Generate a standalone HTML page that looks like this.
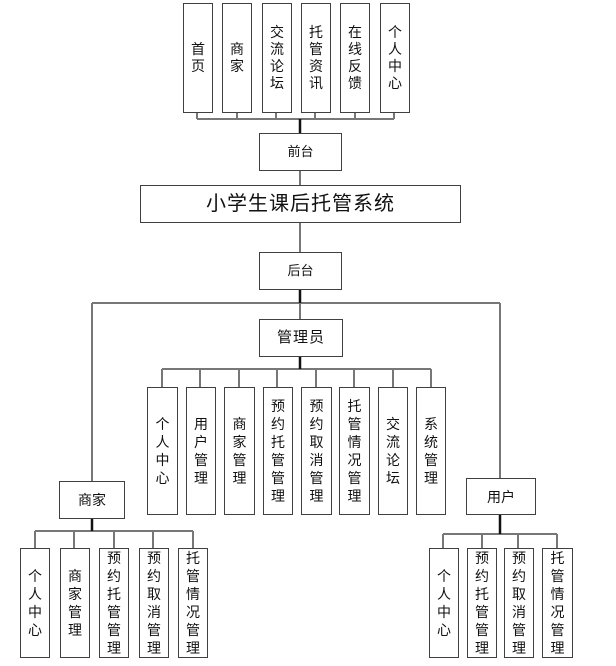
<!DOCTYPE html>
<html><head><meta charset="utf-8"><style>
body{margin:0;width:616px;height:666px;background:#fff;position:relative;overflow:hidden;font-family:"Liberation Sans","Noto Sans CJK SC",sans-serif;color:#111}
.b{position:absolute;box-sizing:border-box;border:1.5px solid #404040;background:#fff;display:flex;align-items:center;justify-content:center;text-align:center;font-size:14px;line-height:18px}
.t{line-height:17px}
svg{position:absolute;left:0;top:0}
</style></head><body>
<svg width="616" height="666">
<g stroke="#777" stroke-width="2" fill="none">
<line x1="197" y1="119" x2="394" y2="119"/>
<line x1="197" y1="112" x2="197" y2="119"/><line x1="237" y1="112" x2="237" y2="119"/><line x1="276" y1="112" x2="276" y2="119"/><line x1="315" y1="112" x2="315" y2="119"/><line x1="355" y1="112" x2="355" y2="119"/><line x1="394" y1="112" x2="394" y2="119"/>
<line x1="300" y1="170" x2="300" y2="185"/>
<line x1="300" y1="222" x2="300" y2="252"/>
<line x1="92" y1="303" x2="500" y2="303"/>
<line x1="92" y1="303" x2="92" y2="481"/>
<line x1="500" y1="303" x2="500" y2="478"/>
<line x1="300" y1="303" x2="300" y2="319"/>
<line x1="162" y1="369" x2="431" y2="369"/>
<line x1="162" y1="369" x2="162" y2="387"/><line x1="200" y1="369" x2="200" y2="387"/><line x1="239" y1="369" x2="239" y2="387"/><line x1="277" y1="369" x2="277" y2="387"/><line x1="316" y1="369" x2="316" y2="387"/><line x1="354" y1="369" x2="354" y2="387"/><line x1="393" y1="369" x2="393" y2="387"/><line x1="431" y1="369" x2="431" y2="387"/>
<line x1="35" y1="531" x2="193" y2="531"/>
<line x1="35" y1="531" x2="35" y2="548"/><line x1="74" y1="531" x2="74" y2="548"/><line x1="114" y1="531" x2="114" y2="548"/><line x1="153" y1="531" x2="153" y2="548"/><line x1="193" y1="531" x2="193" y2="548"/>
<line x1="443" y1="534" x2="557" y2="534"/>
<line x1="443" y1="534" x2="443" y2="548"/><line x1="482" y1="534" x2="482" y2="548"/><line x1="518" y1="534" x2="518" y2="548"/><line x1="557" y1="534" x2="557" y2="548"/>
</g>
<g stroke="#111" stroke-width="2.5">
<line x1="300" y1="119" x2="300" y2="133"/>
<line x1="300" y1="289" x2="300" y2="303"/>
<line x1="300" y1="356" x2="300" y2="369"/>
<line x1="92" y1="518" x2="92" y2="531"/>
<line x1="500" y1="514" x2="500" y2="534"/>
</g>
</svg>
<div class="b t" style="left:183px;top:3px;width:30px;height:110px">首<br>页</div>
<div class="b t" style="left:222px;top:3px;width:30px;height:110px">商<br>家</div>
<div class="b t" style="left:262px;top:3px;width:30px;height:110px">交<br>流<br>论<br>坛</div>
<div class="b t" style="left:301px;top:3px;width:30px;height:110px">托<br>管<br>资<br>讯</div>
<div class="b t" style="left:340px;top:3px;width:30px;height:110px">在<br>线<br>反<br>馈</div>
<div class="b t" style="left:380px;top:3px;width:30px;height:110px">个<br>人<br>中<br>心</div>
<div class="b" style="left:259px;top:133px;width:83px;height:38px;font-size:13px">前台</div>
<div class="b" style="left:140px;top:185px;width:321px;height:38px;font-size:20px;letter-spacing:1px">小学生课后托管系统</div>
<div class="b" style="left:259px;top:252px;width:83px;height:38px;font-size:13px">后台</div>
<div class="b" style="left:259px;top:319px;width:84px;height:38px;font-size:15px;letter-spacing:1px">管理员</div>
<div class="b" style="left:147px;top:387px;width:31px;height:128px">个<br>人<br>中<br>心</div>
<div class="b" style="left:186px;top:387px;width:30px;height:128px">用<br>户<br>管<br>理</div>
<div class="b" style="left:224px;top:387px;width:31px;height:128px">商<br>家<br>管<br>理</div>
<div class="b" style="left:263px;top:387px;width:30px;height:128px">预<br>约<br>托<br>管<br>管<br>理</div>
<div class="b" style="left:301px;top:387px;width:31px;height:128px">预<br>约<br>取<br>消<br>管<br>理</div>
<div class="b" style="left:339px;top:387px;width:31px;height:128px">托<br>管<br>情<br>况<br>管<br>理</div>
<div class="b" style="left:378px;top:387px;width:30px;height:128px">交<br>流<br>论<br>坛</div>
<div class="b" style="left:416px;top:387px;width:30px;height:128px">系<br>统<br>管<br>理</div>
<div class="b" style="left:59px;top:481px;width:66px;height:38px;font-size:14px">商家</div>
<div class="b" style="left:466px;top:478px;width:70px;height:37px;font-size:14px">用户</div>
<div class="b" style="left:20px;top:548px;width:30px;height:110px">个<br>人<br>中<br>心</div>
<div class="b" style="left:60px;top:548px;width:30px;height:110px">商<br>家<br>管<br>理</div>
<div class="b" style="left:99px;top:548px;width:30px;height:110px">预<br>约<br>托<br>管<br>管<br>理</div>
<div class="b" style="left:139px;top:548px;width:30px;height:110px">预<br>约<br>取<br>消<br>管<br>理</div>
<div class="b" style="left:178px;top:548px;width:30px;height:110px">托<br>管<br>情<br>况<br>管<br>理</div>
<div class="b" style="left:429px;top:548px;width:30px;height:110px">个<br>人<br>中<br>心</div>
<div class="b" style="left:467px;top:548px;width:30px;height:110px">预<br>约<br>托<br>管<br>管<br>理</div>
<div class="b" style="left:504px;top:548px;width:30px;height:110px">预<br>约<br>取<br>消<br>管<br>理</div>
<div class="b" style="left:542px;top:548px;width:31px;height:110px">托<br>管<br>情<br>况<br>管<br>理</div>
</body></html>
